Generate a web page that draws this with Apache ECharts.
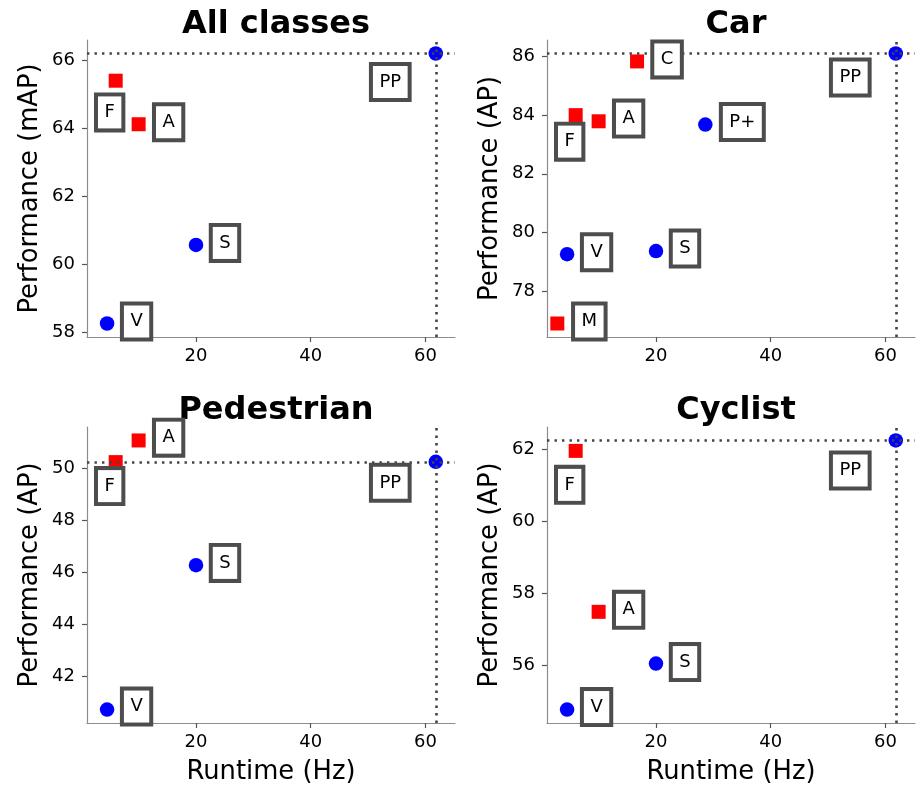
<!DOCTYPE html>
<html>
<head>
<meta charset="utf-8">
<script src="https://cdn.jsdelivr.net/npm/echarts@6/dist/echarts.min.js"></script>
<style>
html,body{margin:0;padding:0;background:#fff;}
#chart{width:923px;height:808px;}
</style>
</head>
<body>
<div id="chart"></div>
<script>
// ---------------- DATA ----------------
const panelTitles = ['All classes', 'Car', 'Pedestrian', 'Cyclist'];
const yAxisNames = ['Performance (mAP)', 'Performance (AP)', 'Performance (AP)', 'Performance (AP)'];
const xAxisName = 'Runtime (Hz)';
const xTicks = [20, 40, 60];

// All classes
const allNames = ['V', 'S', 'F', 'A', 'PP'];
const allRuntime = [4.5, 20, 6.0, 10, 61.8];
const allPerf = [58.25, 60.56, 65.39, 64.11, 66.19];
const allKind = ['lidar', 'lidar', 'fusion', 'fusion', 'lidar'];
const allYTicks = [58, 60, 62, 64, 66];

// Car
const carNames = ['M', 'V', 'S', 'F', 'A', 'C', 'P+', 'PP'];
const carRuntime = [2.8, 4.5, 20, 6.0, 10, 16.7, 28.6, 61.8];
const carPerf = [76.90, 79.26, 79.37, 84.00, 83.79, 85.83, 83.68, 86.10];
const carKind = ['fusion', 'lidar', 'lidar', 'fusion', 'fusion', 'fusion', 'lidar', 'lidar'];
const carYTicks = [78, 80, 82, 84, 86];

// Pedestrian
const pedNames = ['V', 'S', 'F', 'A', 'PP'];
const pedRuntime = [4.5, 20, 6.0, 10, 61.8];
const pedPerf = [40.74, 46.27, 50.22, 51.05, 50.23];
const pedKind = ['lidar', 'lidar', 'fusion', 'fusion', 'lidar'];
const pedYTicks = [42, 44, 46, 48, 50];

// Cyclist
const cycNames = ['V', 'S', 'F', 'A', 'PP'];
const cycRuntime = [4.5, 20, 6.0, 10, 61.8];
const cycPerf = [54.76, 56.04, 61.96, 57.48, 62.25];
const cycKind = ['lidar', 'lidar', 'fusion', 'fusion', 'lidar'];
const cycYTicks = [56, 58, 60, 62];

// ---------------- STYLE / LAYOUT ----------------
const X_MIN = 1.0, X_MAX = 65.15;
const gridLeft = [87, 547, 87, 547];
const gridTop = [40, 40, 427, 427];
const gridW = 368;
const gridH = [297, 297, 296, 296];
const titleTop = [4, 4, 390, 390];

// label box offsets in pixels (box centre relative to point)
const allLabelOffsets = [[29.5, -2], [29, -2], [-6, 31.7], [30, -2], [-45.5, 28.5]];
const carLabelOffsets = [[32, -2], [29.5, -2], [29, -2.5], [-6, 26.5], [30, -2.7], [30, -2], [37, -2.5], [-45.5, 24]];
const pedLabelOffsets = [[29.5, -3], [29, -2.3], [-6, 24], [30, -2.8], [-45.5, 21]];
const cycLabelOffsets = [[29.5, -2.5], [29, -1.5], [-6, 34], [30, -2], [-45.5, 30]];

const FONT = 'DejaVu Sans';
const kindStyle = {
  lidar: { symbol: 'circle', color: '#0000ff', size: 14.5 },
  fusion: { symbol: 'rect', color: '#ff0000', size: 14 }
};

const panels = [
  { names: allNames, x: allRuntime, y: allPerf, kind: allKind, yTicks: allYTicks, off: allLabelOffsets },
  { names: carNames, x: carRuntime, y: carPerf, kind: carKind, yTicks: carYTicks, off: carLabelOffsets },
  { names: pedNames, x: pedRuntime, y: pedPerf, kind: pedKind, yTicks: pedYTicks, off: pedLabelOffsets },
  { names: cycNames, x: cycRuntime, y: cycPerf, kind: cycKind, yTicks: cycYTicks, off: cycLabelOffsets }
];

const option = {
  animation: false,
  backgroundColor: '#ffffff',
  textStyle: { fontFamily: FONT },
  title: [], grid: [], xAxis: [], yAxis: [], series: []
};

panels.forEach((p, i) => {
  const ymin = Math.min(...p.y), ymax = Math.max(...p.y);
  const pad = (ymax - ymin) * 0.05;
  option.title.push({
    text: panelTitles[i],
    left: gridLeft[i] + gridW / 2,
    top: titleTop[i],
    textAlign: 'center',
    textStyle: { fontFamily: FONT, fontWeight: 'bold', fontSize: 32, color: '#000' }
  });
  option.grid.push({ left: gridLeft[i], top: gridTop[i], width: gridW, height: gridH[i], containLabel: false });
  const bottomRow = i >= 2;
  option.xAxis.push({
    type: 'value', gridIndex: i, min: X_MIN, max: X_MAX,
    name: bottomRow ? xAxisName : '',
    nameLocation: 'middle', nameGap: 36,
    nameTextStyle: { fontFamily: FONT, fontSize: 25.8, color: '#000' },
    axisLine: { show: true, onZero: false, lineStyle: { color: '#8c8c8c', width: 1.2 } },
    axisTick: { show: true, length: 5, lineStyle: { color: '#555', width: 1.2 }, customValues: xTicks },
    axisLabel: { fontFamily: FONT, fontSize: 18, color: '#000', margin: 10, customValues: xTicks },
    splitLine: { show: false }
  });
  option.yAxis.push({
    type: 'value', gridIndex: i, min: ymin - pad, max: ymax + pad,
    name: yAxisNames[i],
    nameLocation: 'middle', nameGap: 44,
    nameTextStyle: { fontFamily: FONT, fontSize: 25.8, color: '#000' },
    axisLine: { show: true, onZero: false, lineStyle: { color: '#8c8c8c', width: 1.2 } },
    axisTick: { show: true, length: 5, lineStyle: { color: '#555', width: 1.2 }, customValues: p.yTicks },
    axisLabel: { fontFamily: FONT, fontSize: 18, color: '#000', margin: 12, customValues: p.yTicks },
    splitLine: { show: false }
  });

  const ppIdx = p.names.indexOf('PP');
  const markerData = p.names.map((n, k) => ({
    name: n,
    value: [p.x[k], p.y[k]],
    symbol: kindStyle[p.kind[k]].symbol,
    symbolSize: kindStyle[p.kind[k]].size,
    itemStyle: { color: kindStyle[p.kind[k]].color, opacity: 1 }
  }));
  option.series.push({
    type: 'scatter', xAxisIndex: i, yAxisIndex: i, z: 2, silent: true,
    itemStyle: { opacity: 1 },
    data: markerData,
    markLine: {
      silent: true, symbol: ['none', 'none'], z: 5,
      label: { show: false },
      lineStyle: { color: '#444444', width: 2.6, type: [2.4, 5.1] },
      data: [{ yAxis: p.y[ppIdx] }, { xAxis: p.x[ppIdx] }]
    }
  });
  const labelData = p.names.map((n, k) => ({
    name: n,
    value: [p.x[k], p.y[k]],
    label: { offset: p.off[k] }
  }));
  option.series.push({
    type: 'scatter', xAxisIndex: i, yAxisIndex: i, z: 10, silent: true,
    symbolSize: 1, itemStyle: { color: 'rgba(0,0,0,0)', opacity: 1 },
    data: labelData,
    label: {
      show: true, position: 'inside', formatter: '{b}',
      fontFamily: FONT, fontSize: 18, color: '#000', lineHeight: 22,
      backgroundColor: '#ffffff', borderColor: '#4d4d4d', borderWidth: 4,
      padding: [5, 6.5, 5, 6.5]
    }
  });
});

const chart = echarts.init(document.getElementById('chart'), null, { renderer: 'canvas', width: 923, height: 808 });
chart.setOption(option);
</script>
</body>
</html>
